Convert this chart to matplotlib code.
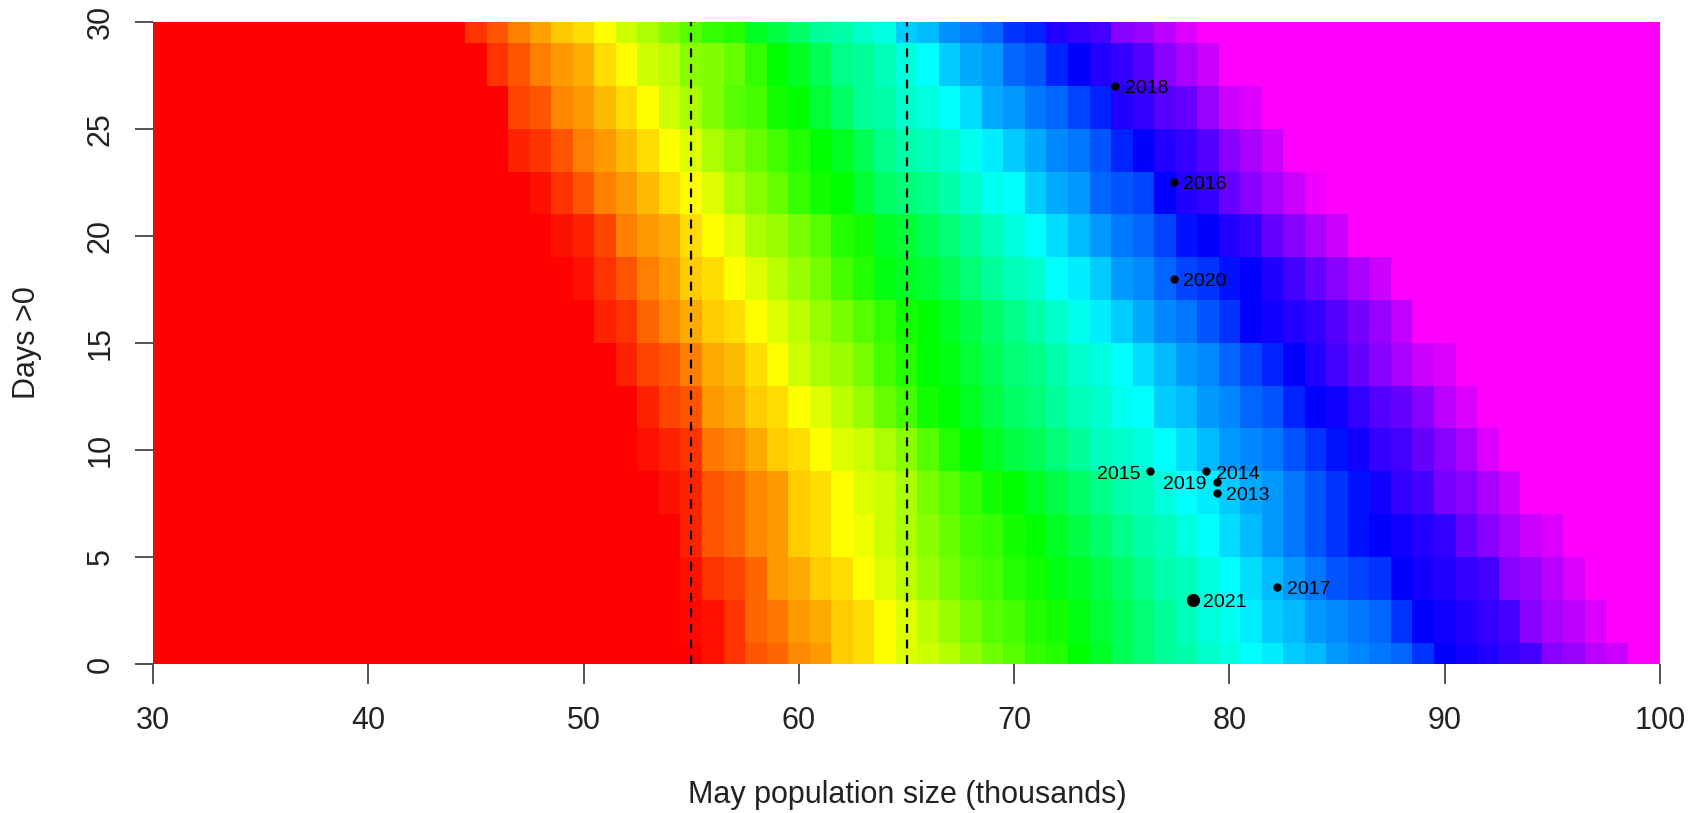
import colorsys
import numpy as np
import matplotlib
matplotlib.use("Agg")
import matplotlib.pyplot as plt
from matplotlib.colors import ListedColormap

plt.rcParams['font.family'] = ['Liberation Sans', 'DejaVu Sans']

# grid: population (thousands) along x, days >0 along y (rows every 2 days)
pop_values = np.arange(30, 101)
day_values = np.arange(0, 31, 2)

# per row: first non-red population value, then hue (degrees) read cell by cell;
# cells left of it are red (0), cells right of the list are magenta (300)
row_start = [56, 55, 55, 55, 54, 53, 53, 52, 51, 50, 49, 48, 47, 47, 46, 45]
row_hues = [
    [4, 12, 20, 24, 32, 36, 48, 52, 60, 68, 72, 78, 86, 94, 100, 108, 112, 120, 128, 140, 148,
     156, 160, 168, 172, 180, 184, 192, 196, 204, 208, 212, 216, 228, 240, 244, 248, 252, 256,
     272, 276, 284, 288],
    [2, 4, 12, 24, 28, 36, 40, 48, 52, 60, 68, 76, 84, 92, 100, 104, 112, 116, 124, 132, 140,
     148, 156, 164, 172, 176, 184, 192, 196, 204, 208, 212, 216, 228, 240, 244, 248, 252, 256,
     272, 280, 284, 292],
    [4, 12, 16, 24, 36, 40, 48, 52, 60, 68, 76, 84, 92, 100, 104, 112, 116, 124, 128, 136, 144,
     152, 160, 164, 172, 180, 188, 196, 204, 212, 220, 224, 228, 240, 244, 248, 252, 256, 272,
     276, 284, 292],
    [8, 20, 24, 32, 36, 48, 52, 60, 64, 72, 80, 88, 96, 104, 108, 116, 120, 128, 136, 144, 152,
     160, 164, 172, 180, 188, 196, 204, 212, 220, 228, 236, 240, 244, 248, 252, 264, 272, 280,
     288, 292],
    [4, 8, 20, 24, 32, 36, 48, 52, 60, 68, 72, 80, 92, 100, 108, 116, 120, 128, 136, 144, 152,
     160, 164, 172, 180, 184, 192, 200, 204, 212, 220, 228, 236, 244, 252, 256, 268, 272, 280,
     288],
    [4, 8, 12, 28, 32, 40, 48, 52, 60, 68, 72, 80, 88, 100, 112, 120, 128, 136, 140, 148, 156,
     164, 168, 172, 180, 188, 196, 204, 208, 212, 220, 228, 236, 244, 252, 256, 264, 272, 280,
     292],
    [8, 16, 20, 36, 40, 48, 52, 60, 68, 76, 84, 96, 104, 116, 120, 128, 136, 144, 148, 156, 164,
     168, 176, 180, 192, 196, 204, 208, 216, 220, 232, 240, 244, 252, 260, 264, 272, 284, 292],
    [8, 16, 20, 30, 40, 44, 52, 60, 72, 80, 84, 92, 104, 112, 120, 124, 132, 140, 148, 152, 160,
     168, 172, 180, 188, 196, 204, 208, 216, 224, 232, 240, 248, 256, 264, 272, 280, 288, 292],
    [8, 12, 24, 32, 40, 48, 52, 60, 68, 76, 84, 92, 100, 108, 116, 120, 128, 136, 144, 152, 160,
     168, 176, 184, 192, 200, 208, 212, 220, 228, 240, 244, 248, 252, 260, 268, 276, 286],
    [4, 12, 20, 30, 36, 48, 52, 60, 68, 76, 84, 92, 104, 112, 124, 128, 132, 140, 148, 156, 164,
     168, 180, 184, 192, 204, 208, 216, 224, 228, 236, 240, 248, 256, 264, 272, 280, 288],
    [4, 8, 16, 30, 36, 40, 52, 60, 68, 80, 84, 92, 100, 112, 116, 128, 132, 140, 148, 156, 164,
     172, 180, 188, 196, 204, 212, 216, 224, 236, 240, 248, 252, 264, 272, 280, 288],
    [4, 12, 20, 30, 36, 44, 52, 60, 68, 80, 88, 96, 108, 116, 120, 132, 144, 148, 152, 160, 168,
     176, 180, 192, 200, 204, 216, 220, 224, 240, 248, 252, 264, 272, 280, 288, 296],
    [8, 12, 20, 30, 36, 44, 52, 60, 68, 80, 88, 96, 104, 112, 120, 128, 140, 152, 160, 164, 168,
     176, 184, 192, 200, 208, 212, 220, 232, 240, 248, 252, 260, 272, 280, 288],
    [16, 20, 32, 36, 44, 52, 60, 72, 80, 90, 100, 104, 116, 120, 132, 144, 156, 160, 168, 172,
     180, 188, 200, 204, 212, 216, 224, 232, 248, 252, 260, 264, 276, 288, 292],
    [12, 20, 30, 36, 41, 52, 60, 72, 76, 88, 90, 96, 108, 120, 128, 140, 152, 156, 164, 172, 180,
     192, 200, 204, 216, 220, 232, 240, 248, 252, 260, 272, 280, 288],
    [12, 20, 30, 38, 47, 52, 60, 72, 80, 90, 100, 108, 112, 128, 135, 144, 156, 160, 168, 173,
     192, 196, 206, 210, 216, 228, 232, 248, 252, 256, 272, 276, 284, 292],
]

# observed years
years = ['2013', '2014', '2015', '2016', '2017', '2018', '2019', '2020', '2021']
year_pop = [79.4, 78.9, 76.3, 77.4, 82.2, 74.7, 79.4, 77.4, 78.3]
year_days = [8.0, 9.0, 9.0, 22.5, 3.6, 27.0, 8.5, 18.0, 3.0]
label_left = ['2015', '2019']

# lower / upper reference lines
ref_lines = [55, 65]

# build the grid of hue values
z = np.full((len(day_values), len(pop_values)), 300.0)
for i, (start, hues) in enumerate(zip(row_start, row_hues)):
    for j, p in enumerate(pop_values):
        k = p - start
        if k < 0:
            z[i, j] = 0
        elif k < len(hues):
            z[i, j] = hues[k]

# R style rainbow: red -> magenta
cols = [colorsys.hsv_to_rgb(h / 360.0, 1, 1) for h in range(301)]
rainbow = ListedColormap(cols)

fig = plt.figure(figsize=(16.91, 8.13), dpi=100)
ax = fig.add_axes([0.0905, 0.1833, 0.8912, 0.7901])

x_edges = np.append(pop_values - 0.5, pop_values[-1] + 0.5)
y_edges = np.append(day_values - 1, day_values[-1] + 1)
ax.pcolormesh(x_edges, y_edges, z, cmap=rainbow, vmin=0, vmax=300,
              shading='flat', edgecolors='none', antialiased=False)

for xv in ref_lines:
    ax.axvline(xv, color='black', lw=1.6, dashes=(4, 3))

for yr, px, dy in zip(years, year_pop, year_days):
    big = yr == '2021'
    ax.plot(px, dy, 'o', color='black', markersize=8.5 if big else 5)
    if yr in label_left:
        ax.annotate(yr, (px, dy), xytext=(-7, -2),
                    textcoords='offset points', ha='right', va='center', fontsize=14)
    else:
        ax.annotate(yr, (px, dy), xytext=(7, -2),
                    textcoords='offset points', ha='left', va='center', fontsize=14)

ax.set_xlim(30, 100)
ax.set_ylim(0, 30)
ax.set_xticks(range(30, 101, 10))
ax.set_yticks(range(0, 31, 5))
ax.set_yticklabels([str(v) for v in range(0, 31, 5)], rotation=90, va='center')
for s in ax.spines.values():
    s.set_visible(False)
ax.tick_params(axis='both', width=1.3, color='#444444', labelsize=22, labelcolor='#222222')
ax.tick_params(axis='x', length=14.4, pad=16)
ax.tick_params(axis='y', length=13, pad=14)

# axis titles placed like R's mgp = 3 lines
fig.text(0.5363, 1 - 795 / 813, 'May population size (thousands)', fontsize=22,
         color='#222222', ha='center', va='center')
fig.text(27 / 1691, 0.5786, 'Days >0', fontsize=22, color='#222222',
         ha='center', va='center', rotation=90)

fig.savefig('out.png', dpi=100)
